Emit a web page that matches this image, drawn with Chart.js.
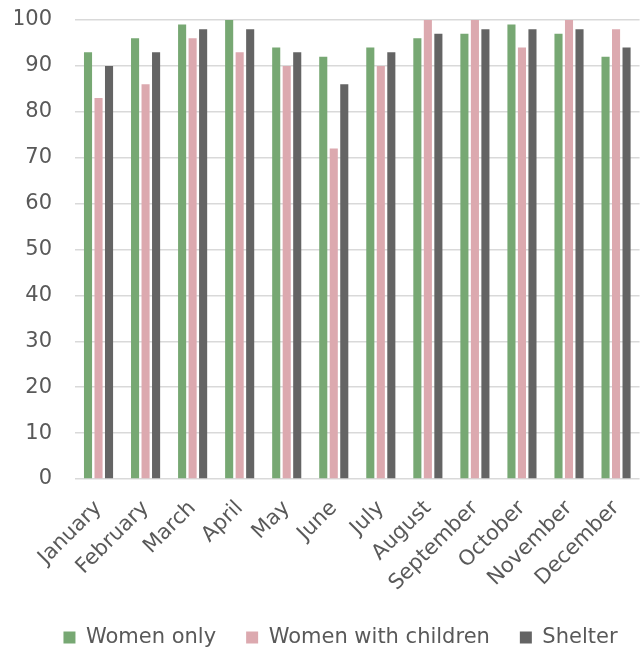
<!DOCTYPE html>
<html>
<head>
<meta charset="utf-8">
<script src="https://cdn.jsdelivr.net/npm/chart.js@4/dist/chart.umd.min.js"></script>
<style>
  html, body { margin: 0; padding: 0; background: #ffffff; }
  #wrap { width: 643px; height: 647px; }
</style>
</head>
<body>
<div id="wrap"><canvas id="chart" width="643" height="647"></canvas></div>
<script>
// Monthly occupancy (%) by accommodation type
const months = ['January', 'February', 'March', 'April', 'May', 'June',
                'July', 'August', 'September', 'October', 'November', 'December'];
const womenOnly         = [93, 96, 99, 100, 94, 92, 94, 96, 97, 99, 97, 92];
const womenWithChildren = [83, 86, 96, 93, 90, 72, 90, 100, 100, 94, 100, 98];
const shelter           = [90, 93, 98, 98, 93, 86, 93, 97, 98, 98, 98, 94];
const seriesNames = ['Women only', 'Women with children', 'Shelter'];
const yMin = 0, yMax = 100, yStep = 10;

const textColor = '#595959';
const fontFamily = '"DejaVu Sans", Verdana, sans-serif';

// Nudge the legend row to the right so it sits under the plot
const legendOffset = {
  id: 'legendOffset',
  afterLayout(chart, args, opts) {
    const lg = chart.legend;
    if (!lg) return;
    lg.left += opts.dx;
    lg.right += opts.dx;
  }
};

new Chart(document.getElementById('chart'), {
  type: 'bar',
  data: {
    labels: months,
    datasets: [
      { label: seriesNames[0], data: womenOnly,         backgroundColor: '#77a873' },
      { label: seriesNames[1], data: womenWithChildren, backgroundColor: '#dca9af' },
      { label: seriesNames[2], data: shelter,           backgroundColor: '#646464' }
    ]
  },
  plugins: [legendOffset],
  options: {
    responsive: false,
    animation: false,
    devicePixelRatio: 1,
    layout: { padding: { top: 20, right: 3, bottom: -11, left: 15 } },
    datasets: {
      bar: { categoryPercentage: 0.67, barPercentage: 0.77 }
    },
    plugins: {
      tooltip: { enabled: false },
      legendOffset: { dx: 13 },
      legend: {
        position: 'bottom',
        labels: {
          color: textColor,
          font: { family: fontFamily, size: 21 },
          boxWidth: 12,
          boxHeight: 12,
          padding: 30
        }
      }
    },
    scales: {
      x: {
        grid: { display: false },
        border: { display: false },
        ticks: {
          color: textColor,
          font: { family: fontFamily, size: 21 },
          minRotation: 45,
          maxRotation: 45,
          autoSkip: false,
          padding: 9
        },
        afterFit(scale) { scale.height = 118; }
      },
      y: {
        min: yMin,
        max: yMax,
        border: { display: false },
        grid: { color: '#d9d9d9', lineWidth: 1.5, drawTicks: false },
        ticks: {
          stepSize: yStep,
          color: textColor,
          font: { family: fontFamily, size: 21 },
          padding: 23
        },
        afterFit(scale) { scale.width = 60; scale.paddingTop = 0; }
      }
    }
  }
});
</script>
</body>
</html>
